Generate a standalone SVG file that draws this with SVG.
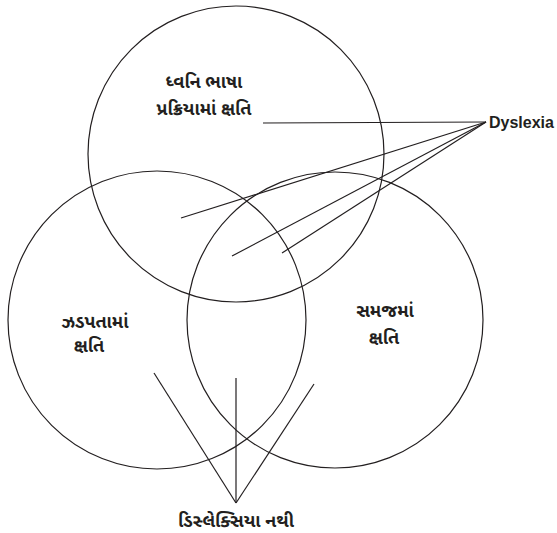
<svg xmlns="http://www.w3.org/2000/svg" width="557" height="533" viewBox="0 0 557 533">
<style>
.c{fill:none;stroke:#231f20;stroke-width:1.2}
.l{fill:none;stroke:#231f20;stroke-width:1.2}
.g{font-family:"Noto Sans Gujarati","Lohit Gujarati","Shruti","Noto Sans",sans-serif;font-size:18px;font-weight:bold;fill:#231f20;text-anchor:middle}
.e{font-family:"Liberation Sans",Arial,sans-serif;font-size:16px;font-weight:bold;fill:#231f20}
</style>
<rect width="557" height="533" fill="#fff"/>
<g id="set-phono">
<circle class="c" cx="236" cy="154" r="148"/>
<text class="g" x="204" y="88">ધ્વનિ ભાષા</text>
<text class="g" x="204" y="115">પ્રક્રિયામાં ક્ષતિ</text>
</g>
<g id="set-fluency">
<circle class="c" cx="157" cy="320" r="149"/>
<text class="g" x="95" y="328">ઝડપતામાં</text>
<text class="g" x="89" y="352">ક્ષતિ</text>
</g>
<g id="set-comprehension">
<circle class="c" cx="335" cy="320" r="148"/>
<text class="g" x="385" y="317">સમજમાં</text>
<text class="g" x="384" y="344">ક્ષતિ</text>
</g>
<g id="label-dyslexia">
<text class="e" x="489" y="128">Dyslexia</text>
</g>
<g id="label-no-dyslexia">
<text class="g" x="236" y="527">ડિસ્લેક્સિયા નથી</text>
</g>
<g id="connectors">
<line class="l" x1="486" y1="122" x2="263" y2="123"/>
<line class="l" x1="486" y1="122" x2="181" y2="218"/>
<line class="l" x1="486" y1="122" x2="232" y2="256"/>
<line class="l" x1="486" y1="122" x2="282" y2="253"/>
<line class="l" x1="236" y1="503" x2="154" y2="373"/>
<line class="l" x1="236" y1="503" x2="236" y2="378"/>
<line class="l" x1="236" y1="503" x2="314" y2="384"/>
</g>
</svg>
